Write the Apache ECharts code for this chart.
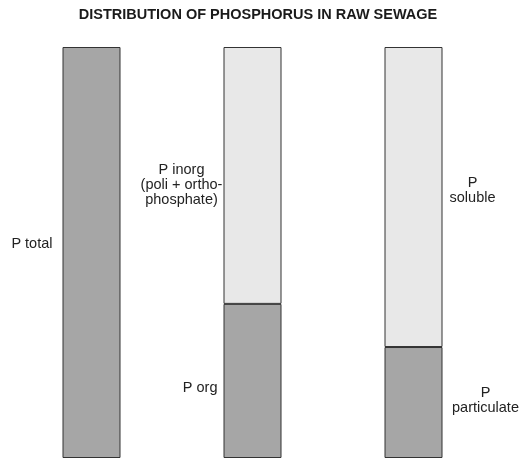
<!DOCTYPE html>
<html>
<head>
<meta charset="utf-8">
<script src="https://cdn.jsdelivr.net/npm/echarts@6/dist/echarts.min.js"></script>
<style>html,body{margin:0;padding:0;background:#fff;}#c{width:521px;height:459px;}</style>
</head>
<body>
<div id="c"></div>
<script>
var title = 'DISTRIBUTION OF PHOSPHORUS IN RAW SEWAGE';
var categories = ['Total', 'Inorganic / Organic', 'Soluble / Particulate'];
var lowerValues = [100, 37.5, 27];
var upperValues = [null, 62.5, 73];
var lowerLabels = ['P total', 'P org', 'P\nparticulate'];
var upperLabels = ['', 'P inorg\n(poli + ortho-\nphosphate)', 'P\nsoluble'];

var dark = '#a6a6a6', light = '#e8e8e8', edge = '#333333';
var font = 'Liberation Sans, Arial, sans-serif';

var lowerLabelStyles = [
  {position: 'left', distance: 10, offset: [0, -9], align: 'right'},
  {position: 'left', distance: 6, offset: [0, 7], align: 'right'},
  {position: 'right', distance: 43, offset: [0, -2], align: 'center'}
];
var upperLabelStyles = [
  {show: false},
  {position: 'left', distance: 42, offset: [0, 9.5], align: 'center'},
  {position: 'right', distance: 30, offset: [0, -7], align: 'center'}
];

function build(values, labels, styles) {
  return values.map(function (v, i) {
    if (v === null) return '-';
    var s = styles[i];
    return {
      value: v,
      label: {
        show: s.show !== false,
        formatter: labels[i],
        position: s.position,
        distance: s.distance,
        offset: s.offset,
        align: s.align,
        verticalAlign: 'middle',
        fontSize: 14.5,
        lineHeight: 15,
        fontFamily: font,
        color: '#222'
      }
    };
  });
}

var chart = echarts.init(document.getElementById('c'));
chart.setOption({
  animation: false,
  title: {
    text: title,
    left: 253, textAlign: 'center', top: 2,
    textStyle: {fontSize: 14.5, fontWeight: 'bold', fontFamily: font, color: '#1a1a1a'}
  },
  grid: {left: 11, right: 27, top: 47, bottom: 1},
  xAxis: {type: 'category', data: categories, show: false},
  yAxis: {type: 'value', min: 0, max: 100, show: false},
  series: [
    {
      type: 'bar', stack: 'p', barWidth: 58,
      itemStyle: {color: dark, borderColor: edge, borderWidth: 1},
      data: build(lowerValues, lowerLabels, lowerLabelStyles)
    },
    {
      type: 'bar', stack: 'p', barWidth: 58,
      itemStyle: {color: light, borderColor: edge, borderWidth: 1},
      data: build(upperValues, upperLabels, upperLabelStyles)
    }
  ]
});
</script>
</body>
</html>
